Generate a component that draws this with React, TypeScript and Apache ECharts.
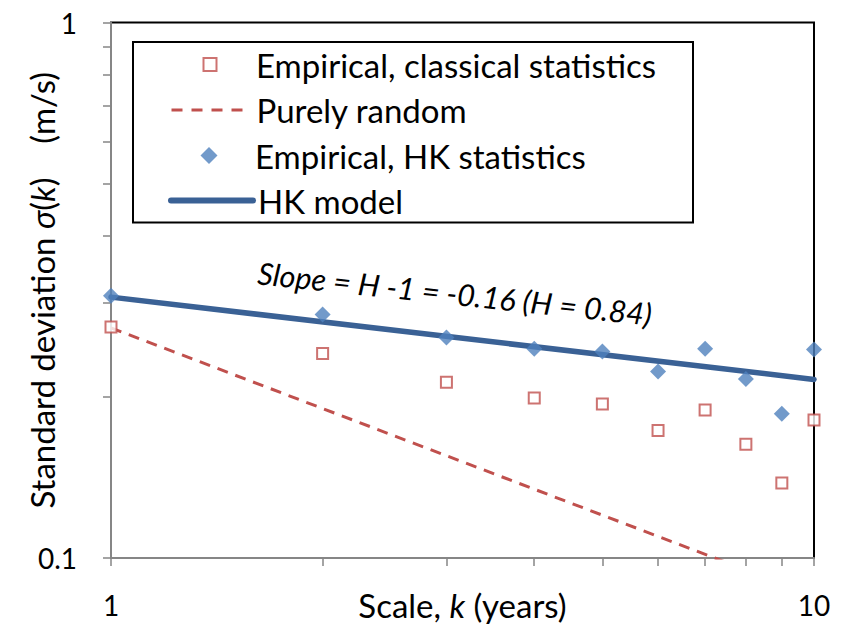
import React, { useEffect, useRef } from 'react';
import * as echarts from 'echarts';

// ---- data ----
const scaleK = [1, 2, 3, 4, 5, 6, 7, 8, 9, 10];
const classicalSigma = [0.270, 0.241, 0.213, 0.199, 0.194, 0.173, 0.189, 0.163, 0.138, 0.181];
const hkSigma = [0.309, 0.285, 0.258, 0.246, 0.243, 0.223, 0.246, 0.216, 0.186, 0.245];
const randomK = [1, 10];
const randomSigma = [0.269, 0.085];
const hkModelK = [1, 10];
const hkModelSigma = [0.307, 0.2155];

const xTickValues = [1, 2, 3, 4, 5, 6, 7, 8, 9, 10];
const xLabelValues = [1, 10];
const yTickValues = [0.1, 0.2, 0.3, 0.4, 0.5, 0.6, 0.7, 0.8, 0.9, 1];
const yLabelValues = [0.1, 1];

const seriesNames = [
  'Empirical, classical statistics',
  'Purely random',
  'Empirical, HK statistics',
  'HK model',
];
const slopeText = 'Slope = H -1 = -0.16 (H = 0.84)';

const FONT = 'Lato, "Open Sans", sans-serif';
const RED = '#C0504D';
const BLUE = '#4F81BD';
const DARKBLUE = '#3A6195';
const AXIS_GREY = '#868686';

const zip = (xs: number[], ys: number[]) => xs.map((x, i) => [x, ys[i]]);

export default function App() {
  const ref = useRef<HTMLDivElement>(null);

  useEffect(() => {
    if (!ref.current) return;
    const chart = echarts.init(ref.current, null, { renderer: 'svg' });

    const LH = 36;
    const ICON_LEFT = 168;
    const ICON_W = 82;
    const legendCommon = {
      orient: 'vertical',
      left: ICON_LEFT,
      itemWidth: ICON_W,
      itemGap: 0,
      padding: 0,
      selectedMode: false,
      symbolKeepAspect: true,
      textStyle: { fontFamily: FONT, fontSize: 33, color: '#000', lineHeight: LH },
    };

    const nameRich = {
      n: { fontFamily: FONT, fontSize: 33, color: '#000', lineHeight: LH },
      i: { fontFamily: FONT, fontSize: 33, color: '#000', fontStyle: 'italic', lineHeight: LH },
    };

    const squareH = 13;
    const diamondH = 17;
    const dashW = 71;

    const option: any = {
      animation: false,
      backgroundColor: '#fff',
      grid: {
        left: 111,
        right: 34,
        top: 22.5,
        bottom: 68,
        outerBoundsMode: 'none',
        containLabel: false,
        show: true,
        borderColor: '#000',
        borderWidth: 2,
        backgroundColor: 'transparent',
      },
      xAxis: {
        type: 'log',
        logBase: 10,
        min: 1,
        max: 10,
        axisLine: { show: true, lineStyle: { color: AXIS_GREY, width: 2 } },
        axisTick: {
          show: true,
          length: 8,
          lineStyle: { color: AXIS_GREY, width: 1.5 },
          customValues: xTickValues,
        },
        axisLabel: {
          customValues: xLabelValues,
          margin: 33,
          fontSize: 28,
          fontFamily: FONT,
          color: '#000',
          formatter: (v: number) => String(v),
        },
        splitLine: { show: false },
        name: '{n|Scale, }{i|k}{n| (years)}',
        nameLocation: 'middle',
        nameGap: 29,
        nameMoveOverlap: false,
        nameTextStyle: { rich: nameRich },
      },
      yAxis: {
        type: 'log',
        logBase: 10,
        min: 0.1,
        max: 1,
        axisLine: { show: true, lineStyle: { color: AXIS_GREY, width: 2 } },
        axisTick: {
          show: true,
          length: 8,
          lineStyle: { color: AXIS_GREY, width: 1.5 },
          customValues: yTickValues,
        },
        axisLabel: {
          customValues: yLabelValues,
          margin: 34,
          fontSize: 28,
          fontFamily: FONT,
          color: '#000',
          formatter: (v: number) => (v < 0.5 ? '0.1' : '1'),
        },
        splitLine: { show: false },
        name: '{n|Standard deviation }{i|σ}{n|(}{i|k}{n|)    (m/s)}',
        nameLocation: 'middle',
        nameGap: 51,
        nameMoveOverlap: false,
        nameTextStyle: { rich: nameRich },
      },
      legend: [
        {
          ...legendCommon,
          left: ICON_LEFT + (ICON_W - squareH) / 2,
          top: 64.5 - LH / 2,
          itemHeight: squareH,
          data: [
            {
              name: seriesNames[0],
              icon: 'path://M0,0H10V10H0Z',
              itemStyle: { color: '#fff', borderColor: RED, borderWidth: 2 },
            },
          ],
        },
        {
          ...legendCommon,
          left: ICON_LEFT + 2,
          itemWidth: dashW,
          top: 110 - LH / 2,
          itemHeight: 14,
          textStyle: { ...legendCommon.textStyle, padding: [0, 0, 0, ICON_W - dashW - 2] },
          data: [
            {
              name: seriesNames[1],
              itemStyle: { opacity: 0 },
              lineStyle: { color: RED, width: 3, type: [11, 9] },
            },
          ],
        },
        {
          ...legendCommon,
          left: ICON_LEFT + (ICON_W - diamondH) / 2,
          top: 155.5 - LH / 2,
          itemHeight: diamondH,
          data: [
            {
              name: seriesNames[2],
              icon: 'path://M5,0L10,5L5,10L0,5Z',
              itemStyle: { color: BLUE, borderWidth: 0 },
            },
          ],
        },
        {
          ...legendCommon,
          top: 200.5 - LH / 2,
          itemHeight: 14,
          data: [
            {
              name: seriesNames[3],
              itemStyle: { opacity: 0 },
              lineStyle: { color: DARKBLUE, width: 6, cap: 'round' },
            },
          ],
        },
      ],
      graphic: [
        {
          type: 'rect',
          z: -1,
          shape: { x: 133, y: 42, width: 560, height: 180.5 },
          style: { fill: '#fff', stroke: '#000', lineWidth: 2 },
        },
        {
          type: 'text',
          x: 455,
          y: 293,
          rotation: (-6 * Math.PI) / 180,
          z: 10,
          style: {
            text: slopeText,
            fontFamily: FONT,
            fontSize: 30.5,
            fontStyle: 'italic',
            fill: '#000',
            textAlign: 'center',
            textVerticalAlign: 'middle',
          },
        },
      ],
      series: [
        {
          name: seriesNames[1],
          type: 'line',
          data: zip(randomK, randomSigma),
          symbol: 'none',
          clip: true,
          z: 2,
          itemStyle: { color: RED },
          lineStyle: { color: RED, width: 3, type: [11, 8] },
        },
        {
          name: seriesNames[3],
          type: 'line',
          data: zip(hkModelK, hkModelSigma),
          symbol: 'none',
          clip: true,
          z: 2,
          itemStyle: { color: DARKBLUE },
          lineStyle: { color: DARKBLUE, width: 5.5, cap: 'round' },
        },
        {
          name: seriesNames[0],
          type: 'scatter',
          data: zip(scaleK, classicalSigma),
          symbol: 'rect',
          symbolSize: 11,
          clip: false,
          z: 3,
          itemStyle: { color: '#fff', borderColor: RED, borderWidth: 2 },
        },
        {
          name: seriesNames[2],
          type: 'scatter',
          data: zip(scaleK, hkSigma),
          symbol: 'diamond',
          symbolSize: 16,
          clip: false,
          z: 4,
          itemStyle: { color: BLUE },
        },
      ],
    };

    chart.setOption(option);
    return () => chart.dispose();
  }, []);

  return (
    <div
      ref={ref}
      style={{ position: 'fixed', left: 0, top: 0, width: 848, height: 626, background: '#fff' }}
    />
  );
}
